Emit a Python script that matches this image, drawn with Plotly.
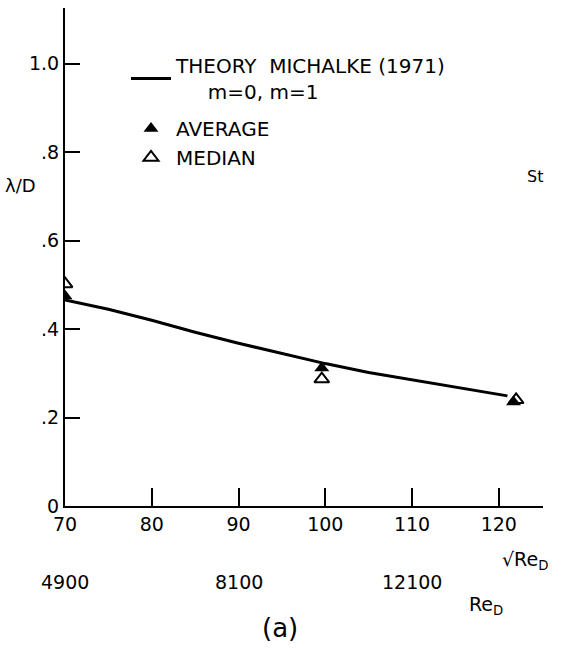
import plotly.graph_objects as go

# ---- data ----
theory_x = [70, 75, 80, 85, 90, 95, 100, 105, 110, 115, 121]
theory_y = [0.466, 0.445, 0.420, 0.393, 0.368, 0.345, 0.322, 0.302, 0.285, 0.268, 0.249]
avg_x = [70, 99.6, 121.7]
avg_y = [0.475, 0.312, 0.235]
med_x = [70, 99.6, 122.0]
med_y = [0.502, 0.287, 0.240]
x_ticks = [70, 80, 90, 100, 110, 120]
y_ticks = [0, 0.2, 0.4, 0.6, 0.8, 1.0]
y_ticktext = ["0", ".2", ".4", ".6", ".8", "1.0"]
re_ticks = [70, 90, 110]  # sqrt(Re_D) positions for Re_D labels

FONT = "DejaVu Sans"

fig = go.Figure()
fig.add_trace(go.Scatter(x=theory_x, y=theory_y, mode="lines",
                         line=dict(color="black", width=3), legendgroup="a",
                         name="THEORY  MICHALKE (1971)<br>     m=0, m=1"))
fig.add_trace(go.Scatter(x=avg_x, y=avg_y, mode="markers", legendgroup="b",
                         marker=dict(symbol="triangle-up", size=13, color="black"),
                         name="AVERAGE"))
fig.add_trace(go.Scatter(x=med_x, y=med_y, mode="markers", legendgroup="b",
                         marker=dict(symbol="triangle-up-open", size=13, color="black",
                                     line=dict(width=2)),
                         name="MEDIAN"))

W, H = 572, 650
L, R, T, B = 65, 29, 8, 144
pw, ph = W - L - R, H - T - B

def px2paper(px, py):
    return (px - L) / pw, (H - B - py) / ph

ann = []
for v in re_ticks:
    ann.append(dict(x=v, xref="x", y=(H - B - 582) / ph, yref="paper", yanchor="middle",
                    text=str(v * v), showarrow=False,
                    font=dict(size=19, family=FONT, color="black")))
for px, py, txt, size in [
    (20, 185, "λ/D", 18),
    (535, 176, "St", 16),
    (525, 560, "√Re<sub>D</sub>", 19),
    (486, 605, "Re<sub>D</sub>", 19),
    (280, 628, "(a)", 26),
]:
    x, y = px2paper(px, py)
    ann.append(dict(x=x, y=y, xref="paper", yref="paper", xanchor="center",
                    yanchor="middle", text=txt, showarrow=False,
                    font=dict(size=size, family=FONT, color="black")))

lx, ly = px2paper(126, 46)
fig.update_layout(
    width=W, height=H,
    margin=dict(l=L, r=R, t=T, b=B),
    paper_bgcolor="white", plot_bgcolor="white",
    font=dict(family=FONT, color="black"),
    showlegend=True,
    legend=dict(x=lx, y=ly, xanchor="left", yanchor="top",
                font=dict(size=20, family=FONT, color="black"),
                bgcolor="rgba(0,0,0,0)", tracegroupgap=8, itemwidth=40),
    annotations=ann,
    xaxis=dict(range=[70, 125.1], tickvals=x_ticks, ticktext=[str(v) for v in x_ticks],
               ticks="inside", ticklen=18, tickwidth=2, tickcolor="black",
               showline=True, linecolor="black", linewidth=2, showgrid=False,
               zeroline=False, tickfont=dict(size=19, family=FONT, color="black")),
    yaxis=dict(range=[0, 1.126], tickvals=y_ticks, ticktext=y_ticktext,
               ticks="inside", ticklen=15, tickwidth=2, tickcolor="black",
               showline=True, linecolor="black", linewidth=2, showgrid=False,
               zeroline=False, tickfont=dict(size=19, family=FONT, color="black")),
)
fig.write_html("out.html")
